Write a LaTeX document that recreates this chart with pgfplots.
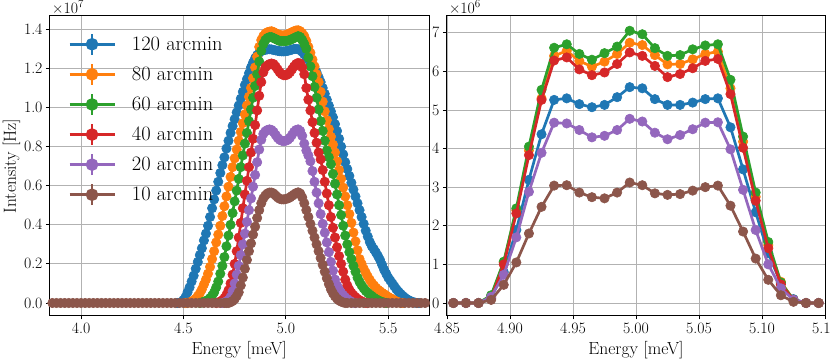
\documentclass[border=0pt]{standalone}
\usepackage{pgfplots}
\pgfplotsset{compat=1.18}
\definecolor{c1}{HTML}{1F77B4}
\definecolor{c2}{HTML}{FF7F0E}
\definecolor{c3}{HTML}{2CA02C}
\definecolor{c4}{HTML}{D62728}
\definecolor{c5}{HTML}{9467BD}
\definecolor{c6}{HTML}{8C564B}
\pgfplotsset{
  myax/.style={
    scale only axis, height=300pt,
    axis line style={line width=1pt, black},
    tick align=outside, major tick length=3.5pt, tick pos=left,
    tick style={line width=0.8pt, black},
    grid=major, grid style={line width=0.8pt, color=black!30},
    tick label style={font=\fontsize{15.8}{18}\selectfont},
    /pgf/number format/assume math mode=true,
    label style={font=\fontsize{17.5}{21}\selectfont},
    xlabel style={at={(axis description cs:0.5,-0.1267)}, anchor=base},
    every axis plot/.append style={line width=2.7pt, mark=*, mark size=4.7pt, mark options={line width=0.6pt, solid}},
    clip mode=individual,
  }
}
\begin{document}
\begin{tikzpicture}
\begin{axis}[myax, width=379.5pt, at={(0pt,0pt)}, anchor=south west,
  xmin=3.846, xmax=5.699, ymin=-0.0665, ymax=1.468,
  xtick={4.0,4.5,5.0,5.5}, ytick={0,0.2,0.4,0.6,0.8,1.0,1.2,1.4},
  xticklabel style={/pgf/number format/.cd,fixed,fixed zerofill,precision=1},
  yticklabel style={/pgf/number format/.cd,fixed,fixed zerofill,precision=1},
  xlabel={Energy [meV]}, ylabel={Intensity [Hz]},
  ylabel style={at={(axis description cs:-0.0883,0.5)}, anchor=base},
  legend style={draw=none, fill=none, at={(axis description cs:0.0487,0.946)}, anchor=north west,
    font=\fontsize{20.5}{24}\selectfont, inner sep=0pt, row sep=6.4pt, column sep=16pt, nodes={inner sep=0pt}},
  legend cell align=left,
  legend image code/.code={
    \draw[#1, mark=none, line width=2.7pt] (0pt,0pt) -- (45pt,0pt);
    \draw[#1, mark=none, line width=2.7pt] (22.5pt,-10.5pt) -- (22.5pt,10.5pt);
    \fill[#1] (22.5pt,0pt) circle (4.9pt);
  },
]
\addplot[c1] coordinates {(4.47,0) (4.48,0.001) (4.49,0.005) (4.50,0.015) (4.51,0.03) (4.52,0.055) (4.53,0.08) (4.54,0.11) (4.55,0.14) (4.56,0.175) (4.57,0.21) (4.58,0.245) (4.59,0.28) (4.60,0.32) (4.61,0.355) (4.62,0.395) (4.63,0.44) (4.64,0.485) (4.65,0.53) (4.66,0.575) (4.67,0.62) (4.68,0.665) (4.69,0.705) (4.70,0.745) (4.71,0.79) (4.72,0.83) (4.73,0.87) (4.74,0.905) (4.75,0.94) (4.76,0.975) (4.77,1.01) (4.78,1.045) (4.79,1.08) (4.80,1.115) (4.81,1.145) (4.82,1.175) (4.83,1.205) (4.84,1.23) (4.85,1.252) (4.86,1.268) (4.87,1.28) (4.88,1.288) (4.89,1.293) (4.90,1.295) (4.91,1.297) (4.92,1.298) (4.93,1.297) (4.94,1.294) (4.95,1.292) (4.96,1.29) (4.97,1.288) (4.98,1.287) (4.99,1.287) (5.00,1.288) (5.01,1.29) (5.02,1.293) (5.03,1.296) (5.04,1.299) (5.05,1.30) (5.06,1.298) (5.07,1.293) (5.08,1.285) (5.09,1.272) (5.10,1.258) (5.11,1.245) (5.12,1.232) (5.13,1.218) (5.14,1.20) (5.15,1.18) (5.16,1.155) (5.17,1.13) (5.18,1.10) (5.19,1.07) (5.20,1.04) (5.21,1.01) (5.22,0.98) (5.23,0.95) (5.24,0.915) (5.25,0.88) (5.26,0.84) (5.27,0.80) (5.28,0.76) (5.29,0.72) (5.30,0.685) (5.31,0.65) (5.32,0.615) (5.33,0.58) (5.34,0.545) (5.35,0.51) (5.36,0.475) (5.37,0.44) (5.38,0.405) (5.39,0.37) (5.40,0.34) (5.41,0.312) (5.42,0.29) (5.43,0.275) (5.44,0.258) (5.45,0.24) (5.46,0.22) (5.47,0.195) (5.48,0.17) (5.49,0.15) (5.50,0.13) (5.51,0.115) (5.52,0.1) (5.53,0.085) (5.54,0.07) (5.55,0.058) (5.56,0.047) (5.57,0.037) (5.58,0.028) (5.59,0.02) (5.60,0.014) (5.61,0.009) (5.62,0.005) (5.63,0.002) (5.64,0) (5.65,0)};
\addlegendentry{120 arcmin}
\addplot[c2] coordinates {(4.51,0) (4.52,0.001) (4.53,0.003) (4.54,0.007) (4.55,0.013) (4.56,0.022) (4.57,0.035) (4.58,0.05) (4.59,0.07) (4.60,0.095) (4.61,0.12) (4.62,0.15) (4.63,0.185) (4.64,0.225) (4.65,0.265) (4.66,0.31) (4.67,0.35) (4.68,0.395) (4.69,0.445) (4.70,0.495) (4.71,0.545) (4.72,0.595) (4.73,0.645) (4.74,0.695) (4.75,0.74) (4.76,0.785) (4.77,0.83) (4.78,0.875) (4.79,0.92) (4.80,0.965) (4.81,1.01) (4.82,1.055) (4.83,1.10) (4.84,1.15) (4.85,1.205) (4.86,1.26) (4.87,1.31) (4.88,1.345) (4.89,1.365) (4.90,1.378) (4.91,1.385) (4.92,1.388) (4.93,1.39) (4.94,1.386) (4.95,1.38) (4.96,1.375) (4.97,1.371) (4.98,1.369) (4.99,1.369) (5.00,1.371) (5.01,1.375) (5.02,1.38) (5.03,1.385) (5.04,1.39) (5.05,1.394) (5.06,1.395) (5.07,1.39) (5.08,1.38) (5.09,1.365) (5.10,1.34) (5.11,1.31) (5.12,1.28) (5.13,1.245) (5.14,1.21) (5.15,1.17) (5.16,1.13) (5.17,1.08) (5.18,1.03) (5.19,0.98) (5.20,0.935) (5.21,0.89) (5.22,0.85) (5.23,0.81) (5.24,0.77) (5.25,0.725) (5.26,0.68) (5.27,0.635) (5.28,0.59) (5.29,0.545) (5.30,0.5) (5.31,0.455) (5.32,0.41) (5.33,0.36) (5.34,0.315) (5.35,0.27) (5.36,0.225) (5.37,0.2) (5.38,0.175) (5.39,0.155) (5.40,0.135) (5.41,0.118) (5.42,0.102) (5.43,0.09) (5.44,0.078) (5.45,0.068) (5.46,0.06) (5.47,0.052) (5.48,0.045) (5.49,0.038) (5.50,0.031) (5.51,0.025) (5.52,0.019) (5.53,0.013) (5.54,0.008) (5.55,0.004) (5.56,0.001) (5.57,0)};
\addlegendentry{80 arcmin}
\addplot[c3] coordinates {(4.58,0) (4.59,0.003) (4.60,0.006) (4.61,0.01) (4.62,0.016) (4.63,0.025) (4.64,0.038) (4.65,0.055) (4.66,0.08) (4.67,0.11) (4.68,0.15) (4.69,0.19) (4.70,0.235) (4.71,0.29) (4.72,0.345) (4.73,0.40) (4.74,0.46) (4.75,0.52) (4.76,0.575) (4.77,0.635) (4.78,0.695) (4.79,0.755) (4.80,0.815) (4.81,0.87) (4.82,0.93) (4.83,0.99) (4.84,1.05) (4.85,1.11) (4.86,1.17) (4.87,1.235) (4.88,1.29) (4.89,1.325) (4.90,1.345) (4.91,1.355) (4.92,1.36) (4.93,1.36) (4.94,1.355) (4.95,1.35) (4.96,1.345) (4.97,1.34) (4.98,1.34) (4.99,1.34) (5.00,1.34) (5.01,1.342) (5.02,1.345) (5.03,1.35) (5.04,1.355) (5.05,1.36) (5.06,1.365) (5.07,1.36) (5.08,1.345) (5.09,1.325) (5.10,1.30) (5.11,1.255) (5.12,1.21) (5.13,1.16) (5.14,1.105) (5.15,1.05) (5.16,0.99) (5.17,0.93) (5.18,0.88) (5.19,0.83) (5.20,0.78) (5.21,0.745) (5.22,0.71) (5.23,0.66) (5.24,0.61) (5.25,0.555) (5.26,0.5) (5.27,0.45) (5.28,0.395) (5.29,0.345) (5.30,0.3) (5.31,0.26) (5.32,0.225) (5.33,0.19) (5.34,0.16) (5.35,0.13) (5.36,0.108) (5.37,0.09) (5.38,0.075) (5.39,0.062) (5.40,0.052) (5.41,0.043) (5.42,0.035) (5.43,0.027) (5.44,0.02) (5.45,0.014) (5.46,0.009) (5.47,0.005) (5.48,0.002) (5.49,0)};
\addlegendentry{60 arcmin}
\addplot[c4] coordinates {(4.66,0) (4.67,0.003) (4.68,0.007) (4.69,0.014) (4.70,0.025) (4.71,0.042) (4.72,0.065) (4.73,0.1) (4.74,0.145) (4.75,0.2) (4.76,0.265) (4.77,0.335) (4.78,0.41) (4.79,0.485) (4.80,0.555) (4.81,0.625) (4.82,0.695) (4.83,0.77) (4.84,0.84) (4.85,0.91) (4.86,0.985) (4.87,1.06) (4.88,1.13) (4.89,1.18) (4.90,1.205) (4.91,1.215) (4.92,1.222) (4.93,1.225) (4.94,1.222) (4.95,1.21) (4.96,1.195) (4.97,1.18) (4.98,1.17) (4.99,1.165) (5.00,1.165) (5.01,1.17) (5.02,1.18) (5.03,1.195) (5.04,1.21) (5.05,1.222) (5.06,1.228) (5.07,1.225) (5.08,1.205) (5.09,1.17) (5.10,1.10) (5.11,1.04) (5.12,0.985) (5.13,0.925) (5.14,0.87) (5.15,0.82) (5.16,0.77) (5.17,0.735) (5.18,0.68) (5.19,0.62) (5.20,0.56) (5.21,0.5) (5.22,0.44) (5.23,0.385) (5.24,0.335) (5.25,0.285) (5.26,0.24) (5.27,0.2) (5.28,0.16) (5.29,0.12) (5.30,0.09) (5.31,0.068) (5.32,0.052) (5.33,0.04) (5.34,0.03) (5.35,0.021) (5.36,0.014) (5.37,0.008) (5.38,0.004) (5.39,0.001) (5.40,0)};
\addlegendentry{40 arcmin}
\addplot[c5] coordinates {(4.69,0) (4.70,0.003) (4.71,0.008) (4.72,0.016) (4.73,0.03) (4.74,0.06) (4.75,0.1) (4.76,0.145) (4.77,0.19) (4.78,0.245) (4.79,0.3) (4.80,0.355) (4.81,0.415) (4.82,0.475) (4.83,0.535) (4.84,0.595) (4.85,0.655) (4.86,0.72) (4.87,0.785) (4.88,0.835) (4.89,0.865) (4.90,0.878) (4.91,0.885) (4.92,0.888) (4.93,0.885) (4.94,0.875) (4.95,0.86) (4.96,0.845) (4.97,0.835) (4.98,0.83) (4.99,0.828) (5.00,0.83) (5.01,0.835) (5.02,0.845) (5.03,0.86) (5.04,0.875) (5.05,0.885) (5.06,0.888) (5.07,0.88) (5.08,0.855) (5.09,0.815) (5.10,0.78) (5.11,0.755) (5.12,0.725) (5.13,0.675) (5.14,0.62) (5.15,0.565) (5.16,0.51) (5.17,0.455) (5.18,0.405) (5.19,0.36) (5.20,0.31) (5.21,0.26) (5.22,0.21) (5.23,0.165) (5.24,0.12) (5.25,0.09) (5.26,0.068) (5.27,0.052) (5.28,0.04) (5.29,0.029) (5.30,0.02) (5.31,0.012) (5.32,0.006) (5.33,0.002) (5.34,0)};
\addlegendentry{20 arcmin}
\addplot[c6] coordinates {(3.82,0) (3.84,0) (3.86,0) (3.88,0) (3.90,0) (3.92,0) (3.94,0) (3.96,0) (3.98,0) (4.00,0) (4.02,0) (4.04,0) (4.06,0) (4.08,0) (4.10,0) (4.12,0) (4.14,0) (4.16,0) (4.18,0) (4.20,0) (4.22,0) (4.24,0) (4.26,0) (4.28,0) (4.30,0) (4.32,0) (4.34,0) (4.36,0) (4.38,0) (4.40,0) (4.42,0) (4.44,0) (4.46,0) (4.48,0) (4.50,0) (4.52,0) (4.54,0) (4.56,0) (4.58,0) (4.60,0) (4.62,0) (4.64,0) (4.66,0) (4.68,0) (4.70,0) (4.71,0) (4.72,0) (4.73,0.004) (4.74,0.01) (4.75,0.02) (4.76,0.035) (4.77,0.055) (4.78,0.09) (4.79,0.13) (4.80,0.175) (4.81,0.22) (4.82,0.265) (4.83,0.305) (4.84,0.35) (4.85,0.39) (4.86,0.435) (4.87,0.475) (4.88,0.51) (4.89,0.535) (4.90,0.55) (4.91,0.56) (4.92,0.565) (4.93,0.565) (4.94,0.56) (4.95,0.55) (4.96,0.54) (4.97,0.533) (4.98,0.53) (4.99,0.53) (5.00,0.532) (5.01,0.535) (5.02,0.54) (5.03,0.548) (5.04,0.555) (5.05,0.562) (5.06,0.566) (5.07,0.56) (5.08,0.54) (5.09,0.51) (5.10,0.475) (5.11,0.44) (5.12,0.405) (5.13,0.37) (5.14,0.335) (5.15,0.3) (5.16,0.265) (5.17,0.23) (5.18,0.195) (5.19,0.16) (5.20,0.127) (5.21,0.097) (5.22,0.07) (5.23,0.05) (5.24,0.034) (5.25,0.022) (5.26,0.013) (5.27,0.007) (5.28,0.003) (5.29,0) (5.30,0) (5.32,0) (5.34,0) (5.36,0) (5.38,0) (5.40,0) (5.42,0) (5.44,0) (5.46,0) (5.48,0) (5.50,0) (5.52,0) (5.54,0) (5.56,0) (5.58,0) (5.60,0) (5.62,0) (5.64,0) (5.66,0) (5.68,0) (5.70,0) (5.72,0)};
\addlegendentry{10 arcmin}
\node[anchor=base west, inner sep=0pt, font=\fontsize{15.8}{18}\selectfont] at (rel axis cs:0,1) [xshift=2.5pt, yshift=2.8pt] {×10\textsuperscript{7}};
\end{axis}
\begin{axis}[myax, width=379.4pt, at={(396.8pt,0pt)}, anchor=south west,
  xmin=4.8494, xmax=5.1506, ymin=-0.337, ymax=7.433,
  xtick={4.85,4.90,4.95,5.00,5.05,5.10,5.15}, ytick={0,1,2,3,4,5,6,7},
  xticklabel style={/pgf/number format/.cd,fixed,fixed zerofill,precision=2},
  xlabel={Energy [meV]},
]
\addplot[c1] coordinates {(4.855,0) (4.865,0) (4.875,0) (4.885,0.15) (4.895,0.8) (4.905,1.89) (4.915,3.19) (4.925,4.37) (4.935,5.26) (4.945,5.3) (4.955,5.15) (4.965,5.07) (4.975,5.13) (4.985,5.33) (4.995,5.59) (5.005,5.56) (5.015,5.28) (5.025,5.13) (5.035,5.13) (5.045,5.19) (5.055,5.28) (5.065,5.3) (5.075,4.55) (5.085,3.46) (5.095,2.35) (5.105,1.29) (5.115,0.51) (5.125,0.1) (5.135,0) (5.145,0)};
\addplot[c2] coordinates {(4.855,0) (4.865,0) (4.875,0) (4.885,0.17) (4.895,1.05) (4.905,2.4) (4.915,3.95) (4.925,5.3) (4.935,6.4) (4.945,6.53) (4.955,6.27) (4.965,6.12) (4.975,6.25) (4.985,6.45) (4.995,6.74) (5.005,6.68) (5.015,6.42) (5.025,6.18) (5.035,6.19) (5.045,6.31) (5.055,6.45) (5.065,6.51) (5.075,5.56) (5.085,4.18) (5.095,2.75) (5.105,1.5) (5.115,0.55) (5.125,0.08) (5.135,0) (5.145,0)};
\addplot[c3] coordinates {(4.855,0) (4.865,0) (4.875,0) (4.885,0.2) (4.895,1.07) (4.905,2.45) (4.915,4.05) (4.925,5.52) (4.935,6.61) (4.945,6.7) (4.955,6.45) (4.965,6.3) (4.975,6.47) (4.985,6.64) (4.995,7.05) (5.005,6.96) (5.015,6.6) (5.025,6.4) (5.035,6.42) (5.045,6.57) (5.055,6.67) (5.065,6.7) (5.075,5.78) (5.085,4.31) (5.095,2.86) (5.105,1.58) (5.115,0.53) (5.125,0.08) (5.135,0) (5.145,0)};
\addplot[c4] coordinates {(4.855,0) (4.865,0) (4.875,0) (4.885,0.12) (4.895,1.0) (4.905,2.32) (4.915,3.83) (4.925,5.26) (4.935,6.28) (4.945,6.36) (4.955,6.05) (4.965,5.9) (4.975,5.97) (4.985,6.19) (4.995,6.49) (5.005,6.4) (5.015,6.14) (5.025,5.85) (5.035,5.93) (5.045,6.08) (5.055,6.27) (5.065,6.32) (5.075,5.41) (5.085,4.02) (5.095,2.65) (5.105,1.42) (5.115,0.48) (5.125,0.08) (5.135,0) (5.145,0)};
\addplot[c5] coordinates {(4.855,0) (4.865,0) (4.875,0) (4.885,0.16) (4.895,0.73) (4.905,1.7) (4.915,2.88) (4.925,3.89) (4.935,4.67) (4.945,4.65) (4.955,4.48) (4.965,4.29) (4.975,4.33) (4.985,4.48) (4.995,4.77) (5.005,4.7) (5.015,4.41) (5.025,4.24) (5.035,4.35) (5.045,4.5) (5.055,4.67) (5.065,4.68) (5.075,3.98) (5.085,2.93) (5.095,1.89) (5.105,1.0) (5.115,0.38) (5.125,0.08) (5.135,0) (5.145,0)};
\addplot[c6] coordinates {(4.855,0) (4.865,0) (4.875,0) (4.885,0.08) (4.895,0.47) (4.905,1.05) (4.915,1.8) (4.925,2.49) (4.935,3.04) (4.945,3.05) (4.955,2.86) (4.965,2.74) (4.975,2.71) (4.985,2.86) (4.995,3.12) (5.005,3.05) (5.015,2.84) (5.025,2.8) (5.035,2.82) (5.045,2.91) (5.055,3.0) (5.065,3.04) (5.075,2.52) (5.085,1.85) (5.095,1.15) (5.105,0.6) (5.115,0.2) (5.125,0.03) (5.135,0) (5.145,0)};
\node[anchor=base west, inner sep=0pt, font=\fontsize{15.8}{18}\selectfont] at (rel axis cs:0,1) [xshift=2.5pt, yshift=2.8pt] {×10\textsuperscript{6}};
\end{axis}
\pgfresetboundingbox
\useasboundingbox (-49.5pt,-47pt) rectangle (780.5pt,316pt);
\end{tikzpicture}
\end{document}
